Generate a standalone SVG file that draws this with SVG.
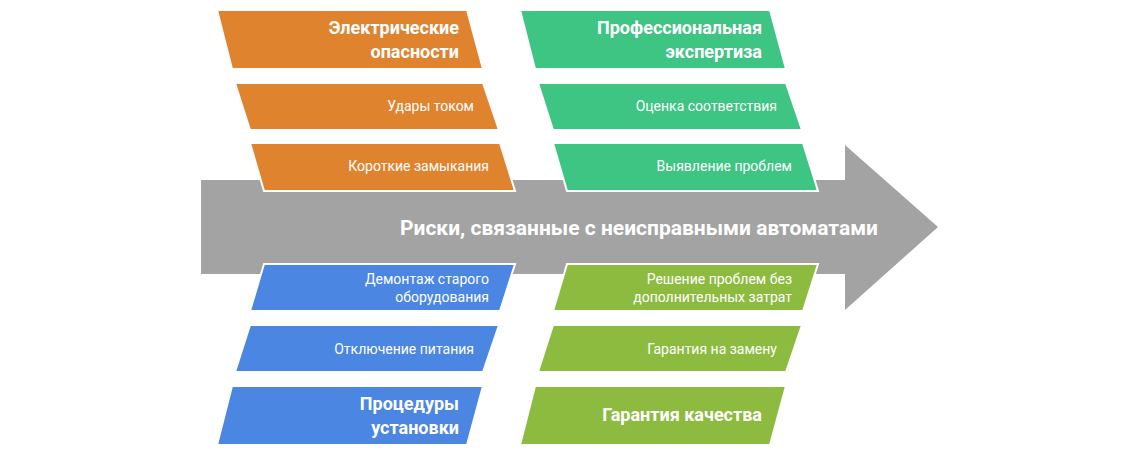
<svg xmlns="http://www.w3.org/2000/svg" width="1140" height="455" viewBox="0 0 1140 455">
<style>
.b{stroke:#fff;stroke-width:2}
.o{fill:#E0832F}.g{fill:#3EC483}.bl{fill:#4A86E2}.ol{fill:#8DBB3F}
text{font-family:Roboto,"Liberation Sans",sans-serif;fill:#fff;text-anchor:end}
.s{font-size:14px}.h{font-size:18px;font-weight:bold}
</style>
<g id="connectors"><polygon points="201,180 845,180 845,145 938,227 845,310 845,274 201,274" fill="#A3A3A3"/></g>
<text x="878" y="235" class="h" style="font-size:21px">Риски, связанные с неисправными автоматами</text>
<g id="n1"><polygon class="b o" points="217,10 467,10 483,69 232,69"/><text x="459" y="34" class="h">Электрические</text><text x="459" y="58" class="h">опасности</text></g>
<g id="n2"><polygon class="b o" points="235,83 483,83 499,130 250,130"/><text x="474" y="111" class="s">Удары током</text></g>
<g id="n3"><polygon class="b o" points="250,143 500,143 515,191 264,191"/><text x="489" y="171" class="s">Короткие замыкания</text></g>
<g id="n4"><polygon class="b bl" points="264,264 515,264 500,311 250,311"/><text x="489" y="284" class="s">Демонтаж старого</text><text x="489" y="302" class="s">оборудования</text></g>
<g id="n5"><polygon class="b bl" points="250,325 499,325 483,372 235,372"/><text x="474" y="354" class="s">Отключение питания</text></g>
<g id="n6"><polygon class="b bl" points="232,386 483,386 467,445 217,445"/><text x="459" y="410" class="h">Процедуры</text><text x="459" y="434" class="h">установки</text></g>
<g id="n7"><polygon class="b g" points="520,10 770,10 786,69 535,69"/><text x="762" y="34" class="h">Профессиональная</text><text x="762" y="58" class="h">экспертиза</text></g>
<g id="n8"><polygon class="b g" points="538,83 786,83 802,130 553,130"/><text x="777" y="111" class="s">Оценка соответствия</text></g>
<g id="n9"><polygon class="b g" points="553,143 803,143 818,191 567,191"/><text x="792" y="171" class="s">Выявление проблем</text></g>
<g id="n10"><polygon class="b ol" points="567,264 818,264 803,311 553,311"/><text x="792" y="284" class="s">Решение проблем без</text><text x="792" y="302" class="s">дополнительных затрат</text></g>
<g id="n11"><polygon class="b ol" points="553,325 802,325 786,372 538,372"/><text x="777" y="354" class="s">Гарантия на замену</text></g>
<g id="n12"><polygon class="b ol" points="535,386 786,386 770,445 520,445"/><text x="762" y="421" class="h">Гарантия качества</text></g>
</svg>
